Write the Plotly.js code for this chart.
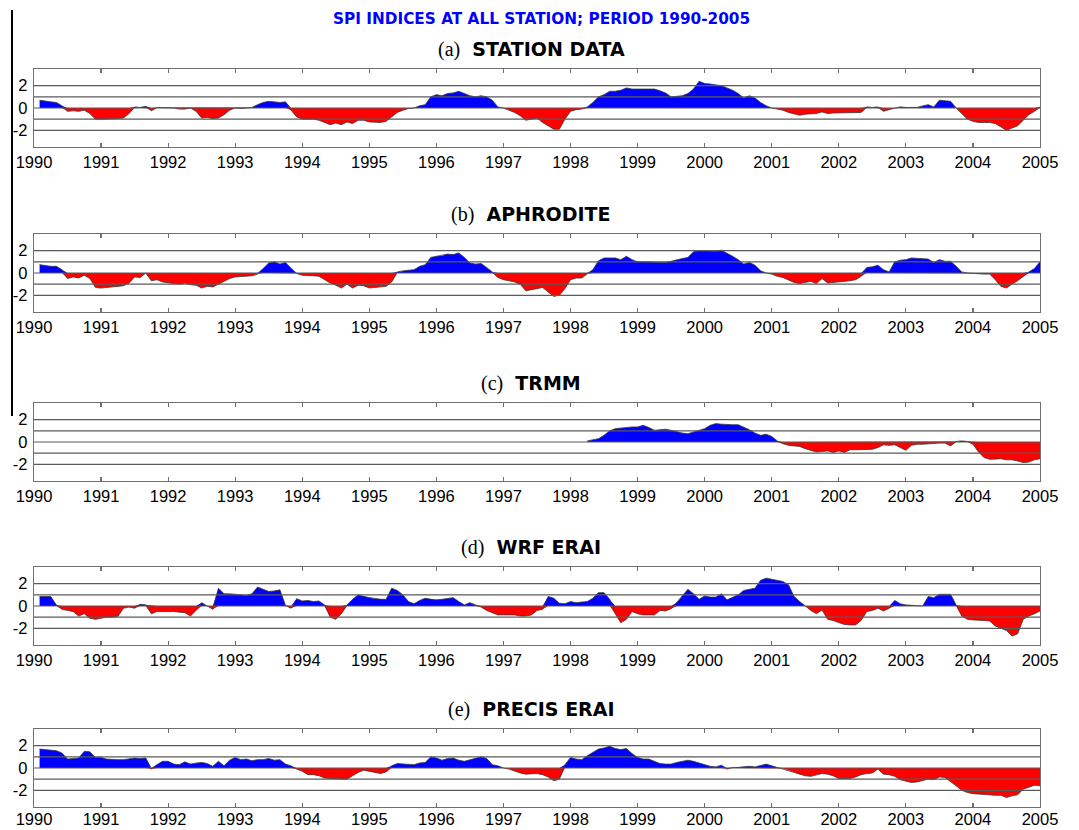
<!DOCTYPE html>
<html>
<head>
<meta charset="utf-8">
<script src="https://cdn.plot.ly/plotly-3.0.1.min.js"></script>
<style>html,body{margin:0;padding:0;background:#fff;}#chart{width:1079px;height:830px;}</style>
</head>
<body>
<div id="chart"></div>
<script>
// ---------------- DATA (monthly SPI, Feb 1990 ... Jan 2005) ----------------
const yearTicks = [1990,1991,1992,1993,1994,1995,1996,1997,1998,1999,2000,2001,2002,2003,2004,2005];
const yTickVals = [-2,-1,0,1,2];
const yTickText = ['-2','','0','','2'];

const panelLetters = ['(a)','(b)','(c)','(d)','(e)'];
const panelNames = ['STATION DATA','APHRODITE','TRMM','WRF ERAI','PRECIS ERAI'];
const mainTitle = 'SPI INDICES AT ALL STATION; PERIOD 1990-2005';

const stationData = [
  0.7,0.6,0.55,0.5,0.2,-0.3,-0.25,-0.3,-0.2,-0.5,-1.0,-1.0,
  -1.0,-0.95,-0.95,-0.9,-0.5,0.1,0.05,0.15,-0.25,0.05,0.05,0.0,
  0.0,-0.1,-0.1,0.0,-0.3,-0.9,-0.85,-0.95,-0.9,-0.6,-0.2,0.0,
  -0.05,0.0,0.05,0.3,0.5,0.6,0.55,0.5,0.55,-0.2,-0.8,-1.0,
  -1.0,-1.0,-1.1,-1.3,-1.5,-1.35,-1.5,-1.25,-1.4,-1.1,-1.1,-1.25,
  -1.3,-1.3,-1.2,-0.8,-0.4,-0.2,-0.05,0.0,0.2,0.3,1.0,1.2,
  1.1,1.3,1.35,1.5,1.3,1.1,1.0,1.1,1.0,0.7,0.1,0.0,
  -0.2,-0.4,-0.7,-1.1,-1.0,-0.9,-1.3,-1.6,-1.9,-1.9,-1.0,-0.3,
  -0.15,-0.1,0.1,0.5,1.0,1.2,1.5,1.5,1.6,1.8,1.7,1.7,
  1.7,1.75,1.7,1.55,1.35,1.0,1.05,1.1,1.3,1.7,2.4,2.2,
  2.15,2.1,2.0,1.8,1.6,1.3,0.9,1.1,0.9,0.5,0.2,0.0,
  -0.1,-0.2,-0.4,-0.5,-0.65,-0.55,-0.5,-0.5,-0.35,-0.5,-0.45,-0.45,
  -0.45,-0.45,-0.45,-0.4,0.1,0.05,0.1,-0.3,-0.15,0.0,0.1,0.05,
  0.05,0.05,0.2,0.3,0.1,0.7,0.65,0.6,0.0,-0.5,-1.0,-1.2,
  -1.3,-1.3,-1.3,-1.4,-1.7,-2.0,-1.8,-1.6,-1.1,-0.6,-0.3,0.1
];

const aphrodite = [
  0.75,0.65,0.6,0.6,0.3,-0.5,-0.35,-0.45,-0.2,-0.5,-1.3,-1.35,
  -1.3,-1.25,-1.25,-1.15,-0.9,-0.35,-0.4,0.0,-0.7,-0.6,-0.8,-0.9,
  -0.95,-1.0,-0.9,-1.05,-1.1,-1.35,-1.2,-1.25,-1.0,-0.8,-0.5,-0.35,
  -0.3,-0.3,-0.25,-0.1,0.4,0.9,1.0,0.8,0.95,0.4,-0.05,-0.2,
  -0.2,-0.25,-0.3,-0.6,-0.9,-1.1,-1.35,-1.0,-1.35,-1.1,-1.15,-1.35,
  -1.3,-1.3,-1.2,-0.8,0.1,0.2,0.25,0.3,0.6,0.75,1.4,1.5,
  1.55,1.7,1.65,1.8,1.4,0.9,0.8,0.85,0.5,0.1,-0.4,-0.6,
  -0.7,-0.8,-1.0,-1.6,-1.5,-1.4,-1.3,-1.7,-2.1,-2.0,-1.4,-0.6,
  -0.45,-0.45,-0.1,0.3,1.1,1.35,1.35,1.35,1.2,1.5,1.2,1.0,
  1.0,1.0,0.95,0.95,0.95,1.05,1.2,1.3,1.4,1.9,2.0,2.0,
  1.95,1.95,2.05,1.8,1.5,1.2,0.8,0.95,0.7,0.2,0.0,-0.1,
  -0.3,-0.4,-0.6,-0.85,-0.95,-0.85,-0.75,-0.95,-0.5,-0.9,-0.85,-0.85,
  -0.8,-0.7,-0.6,-0.3,0.5,0.55,0.7,0.3,0.1,1.0,1.15,1.2,
  1.35,1.3,1.3,1.25,0.95,1.2,1.05,1.05,0.6,0.1,0.0,-0.05,
  -0.1,-0.1,-0.1,-0.6,-1.2,-1.35,-1.0,-0.7,-0.3,0.1,0.4,1.0
];

const trmmMissing = 98; // months before the TRMM record starts (1998.25)
const trmmValues = [
  0.1,0.2,0.3,0.6,1.0,1.2,1.25,1.35,1.35,1.35,
  1.5,1.3,1.05,1.1,1.15,1.05,0.9,0.8,0.75,0.9,1.05,1.2,
  1.5,1.65,1.6,1.55,1.55,1.55,1.35,1.1,0.8,0.6,0.7,0.5,
  0.1,-0.15,-0.3,-0.35,-0.4,-0.6,-0.75,-0.9,-0.85,-0.8,-0.95,-0.8,
  -0.95,-0.7,-0.7,-0.7,-0.7,-0.65,-0.5,-0.25,-0.3,-0.25,-0.5,-0.75,
  -0.3,-0.2,-0.2,-0.15,-0.15,-0.1,-0.1,-0.35,0.05,0.1,0.05,-0.2,
  -0.9,-1.4,-1.55,-1.55,-1.5,-1.6,-1.6,-1.7,-1.85,-1.8,-1.6,-1.5
];

const wrfErai = [
  0.85,0.85,0.85,0.1,-0.3,-0.4,-0.5,-0.9,-0.7,-1.1,-1.2,-1.1,
  -1.0,-1.0,-0.95,-0.2,-0.1,-0.2,0.15,0.1,-0.7,-0.5,-0.5,-0.45,
  -0.5,-0.55,-0.6,-0.9,-0.4,0.3,0.0,-0.3,1.6,1.1,1.1,1.05,
  1.0,0.95,1.1,1.7,1.5,1.3,1.35,1.45,0.05,-0.2,0.65,0.45,
  0.5,0.4,0.45,0.1,-1.0,-1.2,-0.7,0.1,0.6,1.0,0.85,0.75,
  0.65,0.6,0.6,1.6,1.4,1.0,0.4,0.2,0.5,0.7,0.6,0.55,
  0.6,0.65,0.75,0.4,0.1,0.3,0.1,-0.1,-0.4,-0.6,-0.8,-0.8,
  -0.8,-0.8,-0.9,-0.9,-0.8,-0.4,-0.3,0.85,0.7,0.25,0.2,0.4,
  0.3,0.35,0.4,0.7,1.2,1.2,0.6,-0.7,-1.5,-1.2,-0.5,-0.7,
  -0.8,-0.8,-0.8,-0.4,-0.45,-0.25,0.3,0.9,1.5,1.1,0.6,0.9,
  0.8,0.8,1.1,0.55,0.75,1.0,1.4,1.5,1.6,2.3,2.5,2.4,
  2.3,2.2,1.9,0.85,0.4,0.0,-0.4,-0.7,-0.35,-1.2,-1.3,-1.5,
  -1.65,-1.7,-1.7,-1.3,-0.5,-0.4,-0.2,-0.45,-0.2,0.5,0.2,0.1,
  0.05,0.0,0.0,0.85,0.75,1.05,1.05,1.05,0.1,-0.9,-1.2,-1.25,
  -1.3,-1.3,-1.35,-1.8,-2.0,-2.2,-2.7,-2.5,-1.2,-0.9,-0.7,-0.45
];

const precisErai = [
  1.7,1.65,1.6,1.55,1.35,0.8,0.85,0.9,1.5,1.45,0.95,0.95,
  0.8,0.75,0.75,0.75,0.8,0.9,0.85,0.9,-0.1,0.3,0.6,0.6,
  0.35,0.3,0.55,0.35,0.45,0.5,0.4,0.15,0.6,0.2,0.7,0.95,
  0.75,0.8,0.65,0.75,0.75,0.85,0.7,0.75,0.35,0.2,-0.1,-0.3,
  -0.6,-0.6,-0.7,-0.9,-0.95,-0.95,-0.95,-1.0,-0.7,-0.4,-0.2,-0.3,
  -0.45,-0.5,-0.35,0.2,0.4,0.35,0.35,0.3,0.45,0.5,1.0,0.9,
  0.7,0.85,0.9,0.7,0.6,0.75,0.9,1.0,0.85,0.3,0.2,0.0,
  -0.1,-0.3,-0.45,-0.55,-0.5,-0.5,-0.6,-0.8,-1.15,-1.0,0.3,0.95,
  0.8,0.75,1.1,1.4,1.7,1.8,1.95,1.75,1.65,1.75,1.3,0.95,
  0.8,0.8,0.6,0.4,0.35,0.35,0.5,0.6,0.7,0.6,0.45,0.3,
  0.15,0.1,0.25,-0.1,0.05,0.05,0.1,0.15,0.1,0.2,0.35,0.2,
  0.05,-0.05,-0.2,-0.4,-0.55,-0.7,-0.75,-0.6,-0.5,-0.55,-0.7,-0.95,
  -0.95,-0.95,-0.8,-0.6,-0.5,-0.45,-0.1,-0.55,-0.6,-0.75,-1.05,-1.2,
  -1.3,-1.25,-1.15,-1.0,-1.05,-0.8,-0.85,-1.2,-1.6,-2.0,-2.2,-2.3,
  -2.35,-2.4,-2.4,-2.45,-2.45,-2.65,-2.5,-2.4,-1.9,-1.7,-1.55,-1.6
];

// ---------------- BUILD ----------------
const months = [];
for (let i = 1; i <= stationData.length; i++) months.push(1990 + i / 12);
const trmm = new Array(trmmMissing).fill(null).concat(trmmValues);
const series = [stationData, aphrodite, trmm, wrfErai, precisErai];

const W = 1079, H = 830;
const boxTop = [69, 234, 403, 567, 729];
const boxH = 78;
const xLeft = 34, xRight = 1040;
const FONT = 'Liberation Sans, Arial, sans-serif';
const TITLE_FONT = 'DejaVu Sans, Liberation Sans, sans-serif';
const GRID = '#5a5a5a';

const traces = [];
const layout = {
  width: W, height: H,
  margin: {l: 0, r: 0, t: 0, b: 0},
  paper_bgcolor: '#fff', plot_bgcolor: '#fff',
  showlegend: false,
  font: {family: FONT, size: 16, color: '#000'},
  shapes: [], annotations: []
};

series.forEach((vals, p) => {
  const sfx = p === 0 ? '' : String(p + 1);
  const xa = 'x' + sfx, ya = 'y' + sfx;
  const pos = vals.map(v => v === null ? null : Math.max(v, 0));
  const neg = vals.map(v => v === null ? null : Math.min(v, 0));
  traces.push({x: months, y: pos, xaxis: xa, yaxis: ya, type: 'scatter', mode: 'lines',
    fill: 'tozeroy', fillcolor: '#0000ff', line: {width: 0, color: '#0000ff'}, hoverinfo: 'skip'});
  traces.push({x: months, y: neg, xaxis: xa, yaxis: ya, type: 'scatter', mode: 'lines',
    fill: 'tozeroy', fillcolor: '#ff0000', line: {width: 0, color: '#ff0000'}, hoverinfo: 'skip'});
  traces.push({x: months, y: vals, xaxis: xa, yaxis: ya, type: 'scatter', mode: 'lines',
    line: {width: 0.8, color: '#383838'}, connectgaps: false});

  const top = boxTop[p], bot = boxTop[p] + boxH;
  layout['xaxis' + sfx] = {
    domain: [xLeft / W, xRight / W], anchor: ya, range: [1990, 2005],
    tickvals: yearTicks, ticktext: yearTicks.map(String),
    ticks: 'inside', ticklen: 4, tickwidth: 1.2, tickcolor: '#707070',
    showline: true, linecolor: '#707070', linewidth: 1.3, mirror: 'ticks',
    showgrid: false, zeroline: false, fixedrange: true,
    ticklabelstandoff: p === 4 ? -3 : 0,
    tickfont: {family: FONT, size: 16.5, color: '#000'}
  };
  layout['yaxis' + sfx] = {
    domain: [1 - bot / H, 1 - top / H], anchor: xa, range: [-3.5, 3.5],
    tickvals: yTickVals, ticktext: yTickText, ticks: '',
    showline: true, linecolor: '#707070', linewidth: 1.3, mirror: true,
    showgrid: false, zeroline: false, fixedrange: true,
    ticklabelstandoff: 2,
    tickfont: {family: FONT, size: 16.5, color: '#000'}
  };
  yTickVals.forEach(v => {
    layout.shapes.push({type: 'line', layer: 'above', xref: xa + ' domain', yref: ya,
      x0: 0, x1: 1, y0: v, y1: v, line: {color: GRID, width: 1.2}});
  });
  layout.annotations.push({
    xref: 'paper', yref: 'paper', x: 531 / W, y: 1 - (top - 19.5) / H,
    xanchor: 'center', yanchor: 'middle', showarrow: false,
    text: '<span style="font-family:\'Liberation Serif\',serif;font-size:20px">' + panelLetters[p] + '</span>&nbsp; <b>' + panelNames[p] + '</b>',
    font: {family: TITLE_FONT, size: 19, color: '#000'}
  });
});

layout.annotations.push({
  xref: 'paper', yref: 'paper', x: 541 / W, y: 1 - 19 / H,
  xanchor: 'center', yanchor: 'middle', showarrow: false,
  text: '<b>' + mainTitle + '</b>',
  font: {family: TITLE_FONT, size: 15.3, color: '#0000ff'}
});

// stray vertical rule at the left of the figure (as in the source image)
layout.shapes.push({type: 'line', xref: 'paper', yref: 'paper', layer: 'above',
  x0: 12 / W, x1: 12 / W, y0: 1 - 10 / H, y1: 1 - 416 / H, line: {color: '#000', width: 2}});

Plotly.newPlot('chart', traces, layout, {staticPlot: true, displayModeBar: false});
</script>
</body>
</html>
